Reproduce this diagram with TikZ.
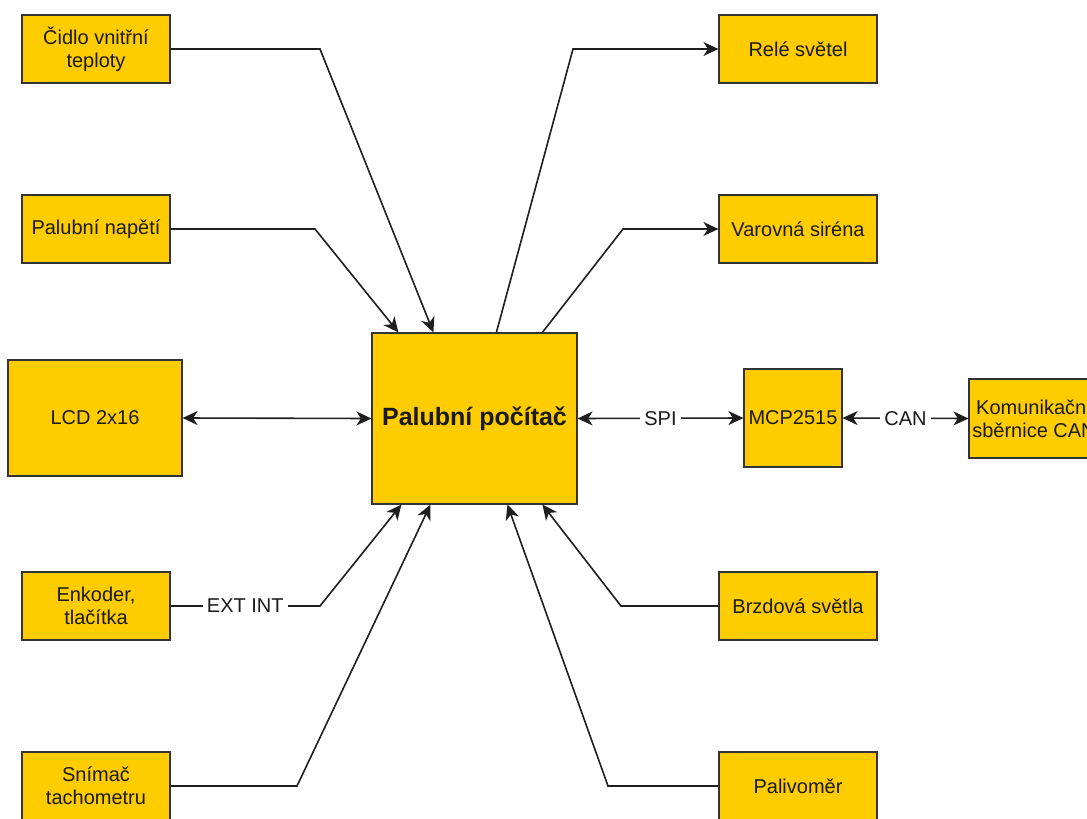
\documentclass[tikz,border=0pt]{standalone}
\usepackage{fontspec}
\setmainfont{Liberation Sans}
\usetikzlibrary{arrows.meta}
\definecolor{boxfill}{HTML}{FFCC00}
\definecolor{boxline}{HTML}{333333}
\definecolor{txt}{HTML}{1A1A1A}
\definecolor{wire}{HTML}{1E1E1E}
\begin{document}
\begin{tikzpicture}[x=1pt,y=-1pt,
  box/.style={draw=boxline, line width=1.2pt, fill=boxfill, text=txt,
    font=\fontsize{20}{23}\selectfont, align=center, inner sep=0pt},
  smallbox/.style={box, minimum width=148pt, minimum height=68pt},
  rightbox/.style={box, minimum width=158pt, minimum height=68pt},
  conn/.style={draw=wire, line width=1.6pt},
  tip/.tip={Stealth[length=15pt,width=14pt,inset=4.5pt]},
  arr/.style={conn, -tip},
  darr/.style={conn, tip-tip},
  lbl/.style={fill=white, text=txt, font=\fontsize{20}{23}\selectfont, inner xsep=4pt, inner ysep=2pt}]
\useasboundingbox (0,0) rectangle (1087,819);
\clip (0,0) rectangle (1087,819);

% nodes
\node[box, minimum width=205pt, minimum height=171pt,
      font=\bfseries\fontsize{25}{30}\selectfont] (pc) at (474.5,418.5) {Palubní počítač};
\node[smallbox] (cidlo) at (96,49) {Čidlo vnitřní\\teploty};
\node[smallbox] (napeti) at (96,229) {Palubní napětí};
\node[box, minimum width=174pt, minimum height=116pt] (lcd) at (95,418) {LCD 2x16};
\node[smallbox] (enk) at (96,606) {Enkoder,\\tlačítka};
\node[smallbox] (snim) at (96,786) {Snímač\\tachometru};
\node[rightbox] (rele) at (798,49) {Relé světel};
\node[rightbox] (siren) at (798,229) {Varovná siréna};
\node[box, minimum width=98pt, minimum height=98pt] (mcp) at (793,418) {MCP2515};
\node[box, minimum width=130pt, minimum height=79pt] (can) at (1034,418.5) {Komunikační\\sběrnice CAN};
\node[rightbox] (brzd) at (798,606) {Brzdová světla};
\node[rightbox] (paliv) at (798,786) {Palivoměr};

% connectors
\draw[arr] (cidlo.east) -- (320,49) -- ([xshift=62pt]pc.north west);
\draw[arr] (napeti.east) -- (315,229) -- ([xshift=27pt]pc.north west);
\draw[darr] (lcd.east) -- (pc.west);
\draw[arr] (enk.east) -- node[lbl]{EXT INT} (320,606) -- ([xshift=30pt]pc.south west);
\draw[arr] (snim.east) -- (297,786) -- ([xshift=59pt]pc.south west);
\draw[arr] ([xshift=125pt]pc.north west) -- (573,49) -- (rele.west);
\draw[arr] ([xshift=171pt]pc.north west) -- (623,229) -- (siren.west);
\draw[darr] (pc.east) -- node[lbl]{SPI} (mcp.west);
\draw[darr] (mcp.east) -- node[lbl]{CAN} (can.west);
\draw[arr] (brzd.west) -- (621,606) -- ([xshift=171pt]pc.south west);
\draw[arr] (paliv.west) -- (608,786) -- ([xshift=136pt]pc.south west);
\end{tikzpicture}
\end{document}
